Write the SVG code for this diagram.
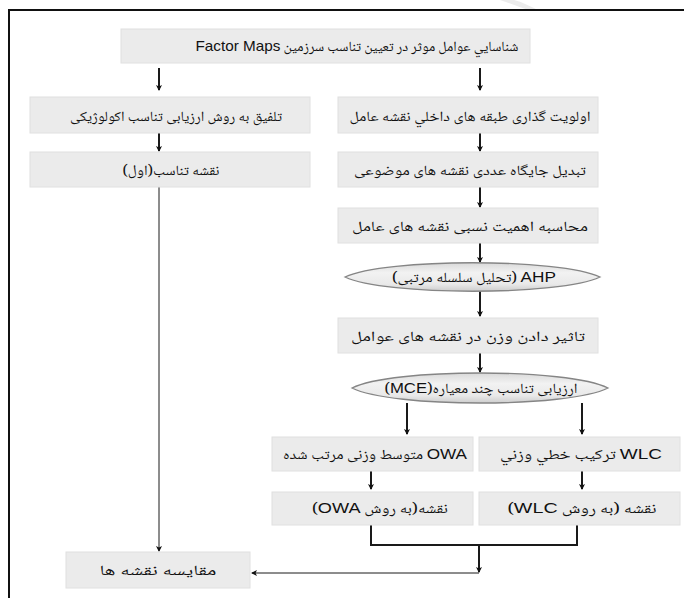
<svg xmlns="http://www.w3.org/2000/svg" width="684" height="598" viewBox="0 0 684 598">
<defs>
<style>
.box{fill:#ebebeb;stroke:#e0e0e0;stroke-width:1}
.ell{fill:url(#eg);stroke:#858585;stroke-width:1.3}
.fa{font-family:"Noto Naskh Arabic","DejaVu Sans",sans-serif;font-size:14px;fill:#111;direction:rtl;unicode-bidi:embed;text-anchor:middle}
.la{font-family:"Liberation Sans",Arial,sans-serif;font-size:15px}
.con{fill:none;stroke:#1a1a1a;stroke-width:2}
.thin{fill:none;stroke:#1a1a1a;stroke-width:1}
.frame{fill:none;stroke:#111;stroke-width:2}
</style>
<linearGradient id="eg" x1="0" y1="0" x2="0" y2="1">
<stop offset="0" stop-color="#d9d9d9"/>
<stop offset="0.35" stop-color="#f2f2f2"/>
<stop offset="0.75" stop-color="#e9e9e9"/>
<stop offset="1" stop-color="#cdcdcd"/>
</linearGradient>
<marker id="ah" viewBox="0 0 6 8" refX="5" refY="4" markerWidth="6" markerHeight="8" markerUnits="userSpaceOnUse" orient="auto">
<path d="M0,1 L6,4 L0,7 L1.5,4 z" fill="#111"/>
</marker>
</defs>
<rect width="684" height="598" fill="#fff"/>
<path d="M500,0 C512,4 522,8 532,11 L540,11 C530,6 522,2 514,0 z" fill="#ececec"/>
<path class="frame" d="M9,598 V10 H684"/>
<g id="connectors">
<path class="con" d="M159,68 V90" marker-end="url(#ah)"/>
<path class="con" d="M480,68 V90" marker-end="url(#ah)"/>
<path class="con" d="M159,133 V151" marker-end="url(#ah)"/>
<path class="con" d="M480,133 V151" marker-end="url(#ah)"/>
<path class="con" d="M480,187 V207" marker-end="url(#ah)"/>
<path class="con" d="M480,243 V262" marker-end="url(#ah)"/>
<path class="con" d="M480,291 V316" marker-end="url(#ah)"/>
<path class="con" d="M480,353 V372" marker-end="url(#ah)"/>
<path class="con" d="M407,403 V434" marker-end="url(#ah)"/>
<path class="con" d="M582,403 V434" marker-end="url(#ah)"/>
<path class="con" d="M371,471 V489" marker-end="url(#ah)"/>
<path class="con" d="M582,471 V489" marker-end="url(#ah)"/>
<path class="con" d="M371,525 V545 H577 V525"/>
<path class="con" d="M479,545 V572" marker-end="url(#ah)"/>
<path class="thin" d="M479,573 H252" marker-end="url(#ah)"/>
<path class="thin" d="M159,187 V551" marker-end="url(#ah)"/>
</g>
<g id="n_top">
<rect class="box" x="121" y="29" width="409" height="34"/>
<text class="fa" x="357" y="51" textLength="323" lengthAdjust="spacingAndGlyphs">شناسايي عوامل موثر در تعيين تناسب سرزمين  <tspan class="la">Factor Maps</tspan></text>
</g>
<g id="n_eco">
<rect class="box" x="30" y="97" width="280" height="36"/>
<text class="fa" x="176" y="121" textLength="212" lengthAdjust="spacingAndGlyphs">تلفیق به روش ارزیابی تناسب اکولوژیکی</text>
</g>
<g id="n_prio">
<rect class="box" x="338" y="97" width="260" height="36"/>
<text class="fa" x="470" y="121" textLength="241" lengthAdjust="spacingAndGlyphs">اولویت گذاری طبقه های داخلي نقشه عامل</text>
</g>
<g id="n_suit">
<rect class="box" x="30" y="152" width="280" height="35"/>
<text class="fa" x="171" y="175" textLength="97" lengthAdjust="spacingAndGlyphs">نقشه تناسب(اول)</text>
</g>
<g id="n_conv">
<rect class="box" x="338" y="152" width="260" height="35"/>
<text class="fa" x="470" y="175" textLength="232" lengthAdjust="spacingAndGlyphs">تبدیل جایگاه عددی نقشه های موضوعی</text>
</g>
<g id="n_calc">
<rect class="box" x="338" y="208" width="260" height="35"/>
<text class="fa" x="470" y="231" textLength="236" lengthAdjust="spacingAndGlyphs">محاسبه اهمیت نسبی نقشه های عامل</text>
</g>
<g id="n_ahp">
<path class="ell" d="M345,277 C385,258 560,258 600,277 C560,296 385,296 345,277 z"/>
<text class="fa" x="474" y="282" textLength="164" lengthAdjust="spacingAndGlyphs"><tspan class="la">AHP</tspan>  (تحلیل سلسله مرتبی)</text>
</g>
<g id="n_weight">
<rect class="box" x="338" y="318" width="260" height="35"/>
<text class="fa" x="468" y="341" textLength="234" lengthAdjust="spacingAndGlyphs">تاثیر دادن وزن در  نقشه های عوامل</text>
</g>
<g id="n_mce">
<path class="ell" d="M352,388 C392,368 568,368 608,388 C568,408 392,408 352,388 z"/>
<text class="fa" x="481" y="393" textLength="193" lengthAdjust="spacingAndGlyphs">ارزیابی تناسب چند معیاره(<tspan class="la">MCE</tspan>)</text>
</g>
<g id="n_owa">
<rect class="box" x="272" y="437" width="201" height="34"/>
<text class="fa" x="375" y="459" textLength="184" lengthAdjust="spacingAndGlyphs"><tspan class="la">OWA</tspan> متوسط وزنی مرتب شده</text>
</g>
<g id="n_wlc">
<rect class="box" x="479" y="437" width="201" height="34"/>
<text class="fa" x="581" y="459" textLength="162" lengthAdjust="spacingAndGlyphs"><tspan class="la">WLC</tspan> ترکیب خطي وزني</text>
</g>
<g id="n_owamap">
<rect class="box" x="272" y="492" width="201" height="33"/>
<text class="fa" x="380" y="513" textLength="136" lengthAdjust="spacingAndGlyphs">نقشه(به روش <tspan class="la">OWA</tspan>)</text>
</g>
<g id="n_wlcmap">
<rect class="box" x="479" y="492" width="201" height="33"/>
<text class="fa" x="582" y="513" textLength="149" lengthAdjust="spacingAndGlyphs">نقشه (به روش <tspan class="la">WLC</tspan>)</text>
</g>
<g id="n_compare">
<rect class="box" x="66" y="552" width="184" height="36"/>
<text class="fa" x="158" y="575" textLength="117" lengthAdjust="spacingAndGlyphs">مقایسه نقشه ها</text>
</g>
</svg>
